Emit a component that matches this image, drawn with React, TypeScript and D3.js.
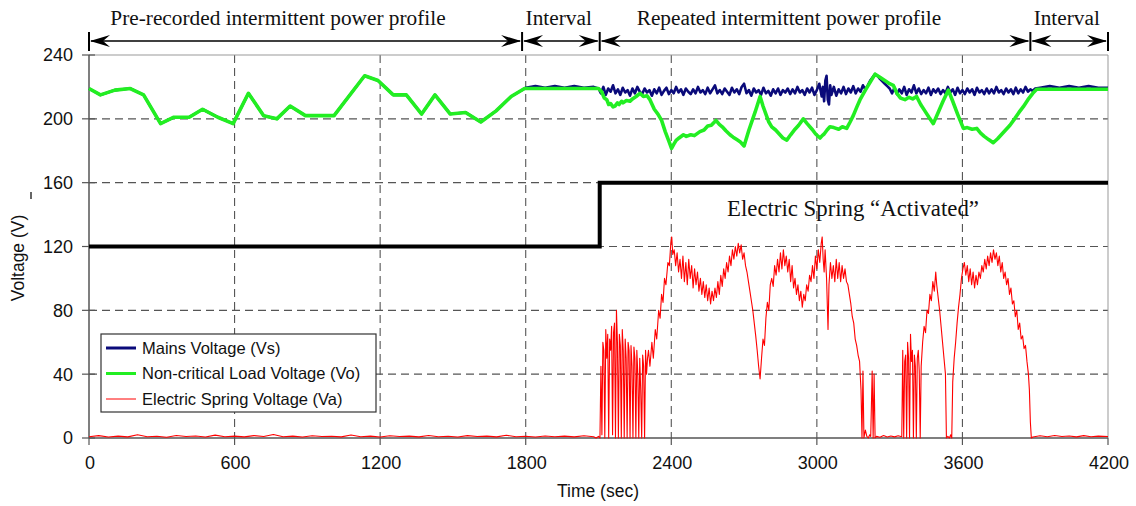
import React from "react";
import * as d3 from "d3";

// ---------- DATA ----------
const xTicks = [0, 600, 1200, 1800, 2400, 3000, 3600, 4200];
const yTicks = [0, 40, 80, 120, 160, 200, 240];

// Non-critical load voltage (Vo) [time s, volts]
const loadVoltage: [number, number][] = [
  [0, 219], [47, 215], [107, 218], [170, 219], [225, 215], [295, 197], [350, 201], [413, 201],
  [468, 206], [531, 201], [594, 197], [657, 216], [720, 202], [774, 200], [829, 208], [892, 202],
  [1010, 202], [1136, 227], [1191, 224], [1254, 215], [1308, 215], [1371, 203], [1426, 215],
  [1489, 203], [1552, 204], [1615, 198], [1678, 205], [1740, 214], [1795, 219], [2100, 219],
  [2113, 217], [2124, 213], [2134, 212], [2142, 209], [2150, 209.5], [2160, 207.5], [2168, 208],
  [2178, 210], [2185, 209], [2195, 211], [2201, 210], [2215, 211.5], [2230, 211], [2240, 212.5],
  [2255, 214], [2271, 216], [2285, 214], [2300, 214.5], [2312, 212], [2330, 206], [2345, 203],
  [2360, 199], [2375, 192], [2390, 186], [2401, 181.5], [2410, 184], [2420, 186.5], [2432, 188],
  [2450, 190], [2462, 189], [2480, 190], [2495, 189.5], [2518, 192], [2535, 193], [2550, 195.5],
  [2565, 196], [2584, 199], [2598, 196.5], [2610, 195], [2625, 192.5], [2642, 190], [2655, 188.5],
  [2670, 187], [2685, 185.5], [2700, 183], [2720, 193], [2745, 204], [2766, 214], [2778, 208],
  [2790, 203], [2802, 198], [2814, 195], [2830, 193], [2845, 190.5], [2860, 188], [2876, 186.7],
  [2892, 190], [2910, 193.5], [2925, 196], [2944, 200], [2960, 197], [2980, 193.5], [2995, 190.5],
  [3013, 188], [3022, 189.5], [3030, 190.5], [3042, 193], [3054, 195], [3070, 194.5],
  [3090, 193.5], [3105, 195], [3123, 194], [3137, 198], [3150, 202], [3165, 207.5], [3178, 212],
  [3200, 218], [3220, 223], [3240, 228], [3260, 226], [3280, 224], [3300, 222], [3315, 221],
  [3330, 216], [3345, 213], [3363, 212], [3380, 213.5], [3395, 212.5], [3411, 214], [3428, 209],
  [3445, 205], [3462, 201], [3480, 197], [3500, 204], [3520, 211], [3542, 218], [3560, 211],
  [3580, 203], [3604, 194], [3620, 194.5], [3640, 193.5], [3659, 194], [3675, 191], [3690, 189],
  [3708, 187], [3727, 185], [3745, 187.5], [3760, 190], [3778, 193], [3796, 196], [3815, 200],
  [3833, 204], [3851, 207.6], [3870, 212], [3890, 216], [3906, 218.5], [4200, 218.5],
];

// Mains voltage (Vs) measured during intervals and the repeated profile [time s, volts]
const mainsMeasured: [number, number][] = [
  [1800, 219.5], [1840, 220.5], [1880, 219.5], [1920, 220.5], [1960, 219.5], [2000, 220.5],
  [2040, 219.5], [2080, 220], [2100, 219], [2110, 216], [2120, 220], [2130, 215], [2140, 219],
  [2150, 217], [2160, 221], [2170, 216], [2180, 218.5], [2190, 215], [2200, 219.5], [2210, 216.5],
  [2220, 218], [2230, 214.5], [2240, 219], [2250, 216], [2260, 220], [2270, 217], [2280, 215.5],
  [2290, 219], [2300, 216.5], [2310, 218], [2320, 214.5], [2330, 218.5], [2340, 216],
  [2350, 219.5], [2360, 215], [2370, 217.5], [2380, 219.5], [2390, 215.5], [2400, 218],
  [2410, 216], [2420, 220], [2430, 216.5], [2440, 218.5], [2450, 215], [2460, 219], [2470, 217],
  [2480, 215.5], [2490, 218.5], [2500, 216], [2510, 220], [2520, 216.5], [2530, 218],
  [2540, 215.5], [2550, 219.5], [2560, 216], [2570, 218.5], [2580, 221], [2590, 216],
  [2600, 218], [2610, 215.5], [2620, 219], [2630, 217], [2640, 215], [2650, 219.5], [2660, 216.5],
  [2670, 218.5], [2680, 215.5], [2690, 220], [2700, 222], [2710, 216], [2720, 218], [2730, 214.5],
  [2740, 219], [2750, 216.5], [2760, 218], [2770, 215], [2780, 219.5], [2790, 216], [2800, 217.5],
  [2810, 214.5], [2820, 218.5], [2830, 216], [2840, 219], [2850, 215], [2860, 218], [2870, 216.5],
  [2880, 219], [2890, 215.5], [2900, 218.5], [2910, 216], [2920, 220], [2930, 216.5], [2940, 218],
  [2950, 215], [2960, 219], [2970, 216.5], [2980, 219.5], [2990, 215], [3000, 218], [3010, 222],
  [3020, 214], [3025, 220], [3030, 211], [3035, 224], [3040, 227], [3045, 212], [3050, 209],
  [3055, 221], [3060, 215], [3070, 220], [3080, 214.5], [3090, 218.5], [3100, 216], [3110, 220],
  [3120, 215.5], [3130, 219], [3140, 216.5], [3150, 220.5], [3160, 216], [3170, 219], [3180, 217],
  [3190, 221], [3200, 218.5], [3210, 221], [3220, 224], [3230, 226], [3240, 228], [3250, 227],
  [3260, 225], [3270, 223.5], [3280, 222], [3290, 220.5], [3300, 219], [3310, 216], [3320, 219.5],
  [3330, 215.5], [3340, 218.5], [3350, 216], [3360, 220], [3370, 215], [3380, 218.5],
  [3390, 216.5], [3400, 221], [3410, 216], [3420, 219], [3430, 215.5], [3440, 218], [3450, 216],
  [3460, 219.5], [3470, 215], [3480, 218.5], [3490, 216.5], [3500, 219], [3510, 215.5],
  [3520, 218], [3530, 216], [3540, 220], [3550, 216.5], [3560, 218.5], [3570, 215], [3580, 219.5],
  [3590, 216], [3600, 218], [3610, 215.5], [3620, 219], [3630, 216.5], [3640, 218.5], [3650, 215],
  [3660, 219.5], [3670, 216.5], [3680, 218], [3690, 215.5], [3700, 219], [3710, 216],
  [3720, 218.5], [3730, 216], [3740, 220], [3750, 216.5], [3760, 218], [3770, 215.5], [3780, 219],
  [3790, 216.5], [3800, 218.5], [3810, 215.5], [3820, 219.5], [3830, 216], [3840, 218.5],
  [3850, 216.5], [3860, 220], [3870, 217], [3880, 218.5], [3890, 217.5], [3900, 219],
  [3920, 219.5], [3960, 220.5], [4000, 219.5], [4040, 220.5], [4080, 219.5], [4120, 220.5],
  [4160, 219.5], [4200, 219.5],
];

// Electric spring voltage (Va) [time s, volts]
const springVoltage: [number, number][] = [
  [0, 0.8], [40, 1.5], [80, 0.6], [120, 1.2], [160, 0.7], [200, 2], [240, 0.8], [280, 1.1],
  [320, 0.5], [360, 1.6], [400, 0.9], [440, 1.3], [480, 0.6], [520, 1.8], [560, 0.8], [600, 1.2],
  [640, 0.7], [680, 1.5], [720, 0.9], [760, 2.2], [800, 0.8], [840, 1.2], [880, 0.6], [920, 1.4],
  [960, 0.9], [1000, 1.1], [1040, 0.7], [1080, 1.9], [1120, 0.8], [1160, 1.2], [1200, 0.6],
  [1240, 1.4], [1280, 0.9], [1320, 1.2], [1360, 0.7], [1400, 1.6], [1440, 0.8], [1480, 1.1],
  [1520, 0.6], [1560, 1.5], [1600, 0.9], [1640, 1.2], [1680, 0.7], [1720, 1.7], [1760, 0.8],
  [1800, 1.1], [1840, 0.6], [1880, 1.3], [1920, 0.8], [1960, 1.2], [2000, 0.7], [2040, 1.4],
  [2080, 0.8], [2090, 0], [2100, 1], [2106, 0], [2110, 45], [2114, 2], [2118, 60], [2122, 55],
  [2126, 0], [2130, 68], [2134, 50], [2138, 65], [2142, 0], [2146, 62], [2150, 55], [2154, 70],
  [2158, 2], [2162, 66], [2166, 72], [2170, 0], [2174, 80], [2178, 60], [2182, 0], [2186, 65],
  [2190, 58], [2194, 0], [2198, 68], [2202, 55], [2206, 0], [2210, 62], [2214, 50], [2218, 0],
  [2222, 60], [2226, 55], [2230, 0], [2234, 58], [2238, 45], [2242, 0], [2246, 57], [2250, 50],
  [2254, 0], [2258, 55], [2262, 40], [2266, 0], [2270, 50], [2274, 30], [2278, 0], [2282, 52],
  [2286, 45], [2290, 0], [2294, 55], [2298, 40], [2302, 50], [2306, 55], [2312, 45], [2320, 60],
  [2326, 50], [2334, 68], [2340, 62], [2348, 80], [2354, 75], [2360, 90], [2366, 85], [2372, 100],
  [2378, 96], [2386, 110], [2392, 108], [2398, 122], [2402, 126], [2406, 115], [2412, 118],
  [2418, 108], [2424, 116], [2430, 104], [2436, 112], [2442, 100], [2448, 114], [2454, 98],
  [2460, 110], [2466, 96], [2472, 112], [2478, 100], [2484, 108], [2490, 94], [2496, 106],
  [2502, 96], [2508, 104], [2514, 92], [2520, 100], [2526, 90], [2532, 98], [2538, 88],
  [2544, 96], [2550, 86], [2556, 94], [2562, 84], [2568, 92], [2574, 86], [2580, 94], [2586, 88],
  [2592, 98], [2598, 90], [2604, 102], [2610, 95], [2616, 106], [2622, 100], [2628, 110],
  [2634, 104], [2640, 114], [2646, 108], [2652, 118], [2658, 112], [2664, 120], [2670, 114],
  [2676, 122], [2682, 116], [2688, 121], [2694, 112], [2700, 116], [2706, 108], [2712, 104],
  [2718, 98], [2724, 92], [2730, 86], [2736, 80], [2742, 72], [2748, 64], [2754, 55], [2760, 45],
  [2766, 37], [2772, 50], [2778, 62], [2784, 58], [2790, 75], [2796, 85], [2802, 80], [2808, 96],
  [2814, 100], [2820, 95], [2826, 108], [2832, 102], [2838, 112], [2844, 104], [2850, 116],
  [2856, 106], [2862, 118], [2868, 108], [2874, 114], [2880, 104], [2886, 112], [2892, 98],
  [2898, 108], [2904, 94], [2910, 100], [2916, 90], [2922, 96], [2928, 86], [2934, 92],
  [2940, 82], [2946, 90], [2952, 86], [2958, 96], [2964, 92], [2970, 102], [2976, 98],
  [2982, 108], [2988, 100], [2994, 114], [3000, 106], [3006, 118], [3012, 110], [3018, 122],
  [3022, 126], [3026, 112], [3030, 104], [3034, 118], [3040, 100], [3046, 68], [3050, 96],
  [3056, 110], [3062, 100], [3068, 108], [3074, 98], [3080, 112], [3086, 100], [3092, 110],
  [3098, 98], [3104, 108], [3110, 100], [3116, 106], [3122, 98], [3128, 96], [3134, 90],
  [3140, 84], [3146, 76], [3152, 72], [3158, 62], [3164, 58], [3170, 52], [3176, 48], [3182, 30],
  [3186, 0], [3190, 42], [3194, 0], [3200, 5], [3206, 1], [3212, 0], [3218, 2], [3222, 1],
  [3228, 42], [3232, 0], [3236, 40], [3240, 0], [3246, 1], [3260, 0.5], [3275, 1.5], [3290, 0.6],
  [3305, 1.2], [3320, 0.7], [3335, 1.4], [3350, 0.8], [3354, 55], [3358, 0], [3362, 48],
  [3366, 52], [3370, 0], [3374, 60], [3378, 50], [3382, 0], [3386, 65], [3390, 48], [3394, 55],
  [3398, 0], [3402, 52], [3406, 45], [3410, 0], [3414, 50], [3418, 55], [3422, 42], [3426, 0],
  [3430, 45], [3436, 60], [3442, 70], [3448, 66], [3454, 80], [3460, 78], [3466, 90], [3472, 86],
  [3478, 98], [3484, 92], [3490, 104], [3494, 96], [3500, 88], [3506, 80], [3512, 70],
  [3518, 60], [3524, 50], [3530, 40], [3534, 0], [3540, 1], [3546, 0], [3552, 2], [3556, 0],
  [3560, 35], [3566, 50], [3572, 60], [3578, 72], [3584, 82], [3590, 90], [3596, 100],
  [3602, 106], [3608, 110], [3614, 102], [3620, 108], [3626, 98], [3632, 106], [3638, 96],
  [3644, 104], [3650, 94], [3656, 102], [3662, 96], [3668, 104], [3674, 100], [3680, 108],
  [3686, 104], [3692, 112], [3698, 106], [3704, 114], [3710, 108], [3716, 116], [3722, 110],
  [3728, 118], [3734, 112], [3740, 116], [3746, 108], [3752, 114], [3758, 104], [3764, 110],
  [3770, 100], [3776, 104], [3782, 96], [3788, 100], [3794, 90], [3800, 94], [3806, 84],
  [3812, 86], [3818, 76], [3824, 80], [3830, 68], [3836, 72], [3842, 62], [3848, 64], [3854, 56],
  [3860, 58], [3866, 48], [3872, 40], [3876, 30], [3880, 10], [3884, 0], [3890, 0.6], [3920, 1.4],
  [3950, 0.8], [3980, 1.6], [4010, 0.9], [4040, 1.3], [4070, 0.7], [4100, 1.5], [4130, 0.8],
  [4160, 1.2], [4200, 0.9],
];

// Electric spring activation indicator (drawn as the black step)
const stepTimes = [0, 2105, 2105, 4200];
const stepLevels = [120, 120, 160, 160];

// Top phase annotations
const phaseBounds = [0, 1785, 2105, 3880, 4200];
const phaseLabels = [
  "Pre-recorded intermittent power profile",
  "Interval",
  "Repeated intermittent power profile",
  "Interval",
];
const phaseLabelCenters = [779, 1936, 2885, 4030];

const seriesNames = [
  "Mains Voltage (Vs)",
  "Non-critical Load Voltage (Vo)",
  "Electric Spring Voltage (Va)",
];

// ---------- CHART ----------
const W = 1136;
const H = 506;
const BLUE = "#0a0a7a";
const GREEN = "#22ee22";
const RED = "#ff0000";
const SANS = "'Liberation Sans', Arial, sans-serif";
const SERIF = "'Liberation Serif', 'Times New Roman', serif";

export default function App() {
  const x = d3.scaleLinear().domain([0, 4200]).range([89, 1108]);
  const y = d3.scaleLinear().domain([0, 240]).range([438, 55]);
  const line = d3
    .line<[number, number]>()
    .x((d) => x(d[0]))
    .y((d) => y(d[1]));

  const mains: [number, number][] = [
    ...loadVoltage.filter((d) => d[0] < 1800),
    ...mainsMeasured,
  ];
  const step: [number, number][] = stepTimes.map((t, i) => [t, stepLevels[i]]);

  const arrowY = 41;
  const head = (xt: number, dir: number) => {
    const L = 20 * dir;
    return `M${xt},${arrowY} L${xt - L},${arrowY - 6} L${xt - L * 0.65},${arrowY} L${xt - L},${arrowY + 6} Z`;
  };

  return (
    <svg
      width={W}
      height={H}
      viewBox={`0 0 ${W} ${H}`}
      style={{ position: "absolute", left: 0, top: 0, background: "#fff" }}
    >
      <rect x={0} y={0} width={W} height={H} fill="#fff" />
      {/* grid */}
      <g stroke="#555" strokeWidth={1.1} strokeDasharray="8,5">
        {yTicks
          .filter((v) => v > 0 && v < 240)
          .map((v) => (
            <line key={"gy" + v} x1={x(0)} x2={x(4200)} y1={y(v)} y2={y(v)} />
          ))}
        {xTicks
          .filter((t) => t > 0 && t < 4200)
          .map((t) => (
            <line key={"gx" + t} x1={x(t)} x2={x(t)} y1={y(240)} y2={y(0)} />
          ))}
      </g>
      {/* frame */}
      <line x1={x(0)} x2={x(4200)} y1={y(240)} y2={y(240)} stroke="#999" strokeWidth={1} />
      <line x1={x(4200)} x2={x(4200)} y1={y(240)} y2={y(0)} stroke="#999" strokeWidth={1} />
      <line x1={x(0)} x2={x(0)} y1={y(240)} y2={y(0)} stroke="#555" strokeWidth={1.5} />
      <line x1={x(0)} x2={x(4200)} y1={y(0)} y2={y(0)} stroke="#555" strokeWidth={1.5} />
      {/* ticks */}
      {yTicks.map((v) => (
        <g key={"ty" + v}>
          <line x1={x(0) - 7} x2={x(0) + 6} y1={y(v)} y2={y(v)} stroke="#555" strokeWidth={1.2} />
          <text
            x={73}
            y={y(v)}
            dy="0.36em"
            textAnchor="end"
            fontFamily={SANS}
            fontSize={18}
            fill="#111"
          >
            {v}
          </text>
        </g>
      ))}
      {xTicks.map((t) => (
        <g key={"tx" + t}>
          <line x1={x(t)} x2={x(t)} y1={y(0)} y2={y(0) + 7} stroke="#555" strokeWidth={1.2} />
          <text
            x={x(t) + 1}
            y={469}
            textAnchor="middle"
            fontFamily={SANS}
            fontSize={18}
            fill="#111"
          >
            {t}
          </text>
        </g>
      ))}
      <text
        transform={`translate(24,258) rotate(-90)`}
        textAnchor="middle"
        fontFamily={SANS}
        fontSize={17.5}
        fill="#111"
      >
        Voltage (V)
      </text>
      <line x1={31} x2={31} y1={192} y2={199} stroke="#333" strokeWidth={1.5} />
      <text x={598} y={497} textAnchor="middle" fontFamily={SANS} fontSize={17.5} fill="#111">
        Time (sec)
      </text>

      {/* series */}
      <path d={line(step) || ""} fill="none" stroke="#000" strokeWidth={4} />
      <path d={line(mains) || ""} fill="none" stroke={BLUE} strokeWidth={2.6} strokeLinejoin="round" />
      <path d={line(loadVoltage) || ""} fill="none" stroke={GREEN} strokeWidth={3.6} strokeLinejoin="round" />
      <path d={line(springVoltage) || ""} fill="none" stroke={RED} strokeWidth={1.1} strokeLinejoin="round" />

      <text x={853} y={216} textAnchor="middle" fontFamily={SERIF} fontSize={22.8} fill="#111">
        Electric Spring “Activated”
      </text>

      {/* phase annotations */}
      {phaseBounds.map((t, i) => (
        <line key={"pb" + i} x1={x(t)} x2={x(t)} y1={32} y2={51} stroke="#000" strokeWidth={2} />
      ))}
      {phaseLabels.map((lab, i) => {
        const a = x(phaseBounds[i]);
        const b = x(phaseBounds[i + 1]);
        return (
          <g key={"ph" + i}>
            <line x1={a + 2} x2={b - 2} y1={arrowY} y2={arrowY} stroke="#000" strokeWidth={1.6} />
            <path d={head(a + 1, -1)} fill="#000" />
            <path d={head(b - 1, 1)} fill="#000" />
            <text
              x={x(phaseLabelCenters[i])}
              y={25}
              textAnchor="middle"
              fontFamily={SERIF}
              fontSize={21.3}
              fill="#111"
            >
              {lab}
            </text>
          </g>
        );
      })}

      {/* legend */}
      <g>
        <rect x={101} y={334} width={275} height={78} fill="#fff" stroke="#333" strokeWidth={1.2} />
        {seriesNames.map((n, i) => {
          const yy = 348 + i * 25.5;
          const col = [BLUE, GREEN, RED][i];
          const sw = [3, 3, 1][i];
          return (
            <g key={n}>
              <line x1={106} x2={136} y1={yy} y2={yy} stroke={col} strokeWidth={sw} />
              <text x={142} y={yy} dy="0.36em" fontFamily={SANS} fontSize={16.5} fill="#111">
                {n}
              </text>
            </g>
          );
        })}
      </g>
    </svg>
  );
}
